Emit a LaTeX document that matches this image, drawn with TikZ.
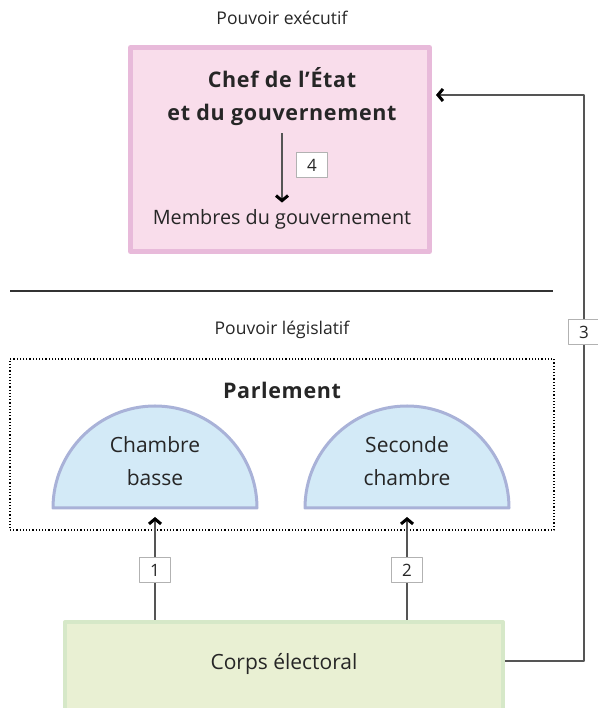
\documentclass[tikz,border=0pt]{standalone}
\usepackage{fontspec}
\setmainfont{Open Sans}
\usetikzlibrary{arrows.meta,positioning}

\definecolor{roseFond}{HTML}{F9DDEB}
\definecolor{roseBord}{HTML}{E8BADA}
\definecolor{bleuFond}{HTML}{D3EAF7}
\definecolor{bleuBord}{HTML}{A9B2D8}
\definecolor{vertFond}{HTML}{E9F0D3}
\definecolor{vertBord}{HTML}{D6E8C8}
\definecolor{trait}{HTML}{555555}

\begin{document}
\begin{tikzpicture}[
  x=1pt, y=1pt,
  line join=round,
  every node/.style={font=\fontsize{21}{33}\selectfont, text=black!85},
  fleche/.style={draw=trait, line width=1.4pt,
    -{Straight Barb[length=5pt,width=12pt,line width=3pt,black]}},
  lien/.style={draw=trait, line width=1.4pt},
  numero/.style={draw=gray!60, fill=white, line width=0.8pt,
    minimum width=31pt, minimum height=25pt, inner sep=0pt,
    font=\fontsize{17}{20}\selectfont},
  titre/.style={font=\fontsize{17.5}{20}\selectfont},
  gras/.style={font=\bfseries\fontsize{21.5}{33}\selectfont\addfontfeature{LetterSpace=3}, align=center}
]
  \useasboundingbox (0,0) rectangle (597,708);

  % Pouvoir exécutif
  \node[titre] (exe) at (282,690) {Pouvoir exécutif};
  \node[draw=roseBord, fill=roseFond, line width=5pt,
        minimum width=299pt, minimum height=204pt] (exec) at (280,558.5) {};
  \node[gras] (chef) at (282,611.5) {Chef de l'État\\et du gouvernement};
  \node[font=\fontsize{19.8}{24}\selectfont] (membres) at (282,489) {Membres du gouvernement};
  \node[numero] (n4) at (312,543) {4};
  \draw[fleche, shorten <=4pt, shorten >=3pt] (chef.south -| membres) -- (membres.north);

  % Séparation
  \coordinate (sepG) at (10,417);
  \coordinate (sepD) at (553,417);
  \draw[line width=1.5pt, black!80] (sepG) -- (sepD);

  % Pouvoir législatif
  \node[titre] (leg) at (282,378) {Pouvoir législatif};
  \node[draw, dotted, line width=1.2pt,
        minimum width=544pt, minimum height=171pt] (parl) at (282,263.5) {};
  \node[gras] (parlement) at (282,318) {Parlement};

  % Les deux chambres
  \coordinate (baseCB) at (155,200);
  \coordinate (baseSC) at (407,200);
  \draw[fill=bleuFond, draw=bleuBord, line width=3pt]
    (53,200) arc (180:0:102pt) -- cycle;
  \draw[fill=bleuFond, draw=bleuBord, line width=3pt]
    (305,200) arc (180:0:102pt) -- cycle;
  \node[align=center] (cb) at (155,246.5) {Chambre\\basse};
  \node[align=center] (sc) at (407,246.5) {Seconde\\chambre};

  % Corps électoral
  \node[draw=vertBord, fill=vertFond, line width=4pt,
        minimum width=438pt, minimum height=90pt] (corps) at (284,41) {};
  \node (ce) at (284,44) {Corps électoral};

  % Élections
  \node[numero] (n1) at (155,138) {1};
  \node[numero] (n2) at (407,138) {2};
  \node[numero] (n3) at (584,376) {3};
  \coordinate (cible) at (436,613);

  \draw[lien] (corps.north -| n1) -- (n1.south);
  \draw[fleche, shorten >=9pt] (n1.north) -- (baseCB);
  \draw[lien] (corps.north -| n2) -- (n2.south);
  \draw[fleche, shorten >=9pt] (n2.north) -- (baseSC);
  \draw[lien] (corps.east |- 0,47) -| (n3.south);
  \draw[fleche] (n3.north) |- (cible);
\end{tikzpicture}
\end{document}
